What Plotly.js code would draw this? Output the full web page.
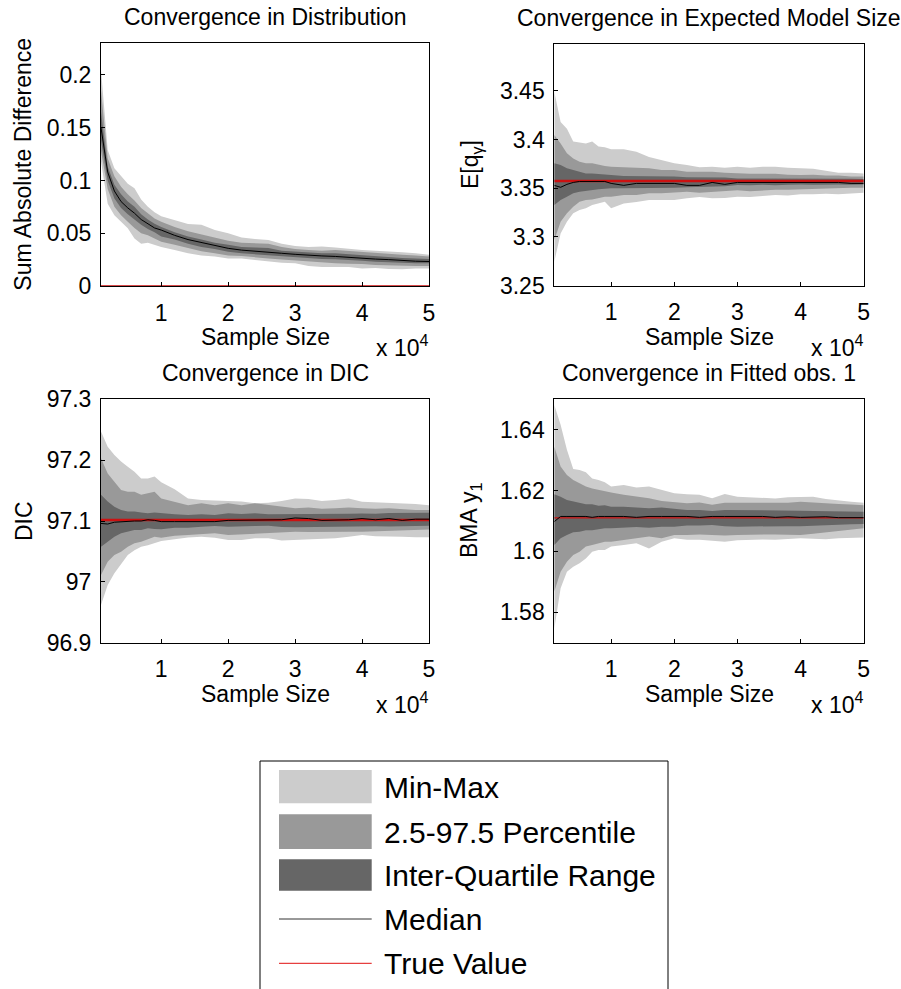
<!DOCTYPE html>
<html><head><meta charset="utf-8">
<script src="https://cdn.plot.ly/plotly-3.0.1.min.js"></script>
<style>html,body{margin:0;padding:0;background:#fff}</style>
</head><body><div id="chart" style="width:901px;height:989px"></div>
<script>
// ---- data ----
const sampleSize = [1000,2000,3000,4000,5000,6000,7000,8000,9000,10000,12000,14000,16000,18000,20000,22000,24000,26000,28000,30000,32000,34000,36000,38000,40000,42000,44000,46000,48000,50000];
const xTickVals = [10000,20000,30000,40000,50000];
const xTickText = ['1','2','3','4','5'];

// Convergence in Distribution
const distMax  = [0.205,0.129,0.1115,0.104,0.097,0.0926,0.082,0.075,0.070,0.066,0.0626,0.0588,0.058,0.053,0.050,0.046,0.0446,0.0435,0.040,0.038,0.037,0.0375,0.0365,0.035,0.034,0.0335,0.033,0.032,0.031,0.0295];
const distP975 = [0.185,0.121,0.104,0.094,0.087,0.081,0.074,0.069,0.064,0.061,0.056,0.052,0.049,0.046,0.043,0.041,0.0405,0.040,0.037,0.035,0.034,0.0335,0.034,0.033,0.0325,0.031,0.0305,0.0295,0.029,0.028];
const distQ75  = [0.165,0.113,0.096,0.087,0.080,0.075,0.068,0.063,0.059,0.056,0.051,0.047,0.044,0.041,0.039,0.037,0.0365,0.036,0.0335,0.0325,0.0315,0.031,0.031,0.030,0.0294,0.0285,0.0275,0.0265,0.026,0.0256];
const distMed  = [0.150,0.108,0.090,0.080,0.074,0.069,0.063,0.059,0.055,0.053,0.048,0.044,0.041,0.038,0.0357,0.034,0.0332,0.032,0.031,0.030,0.029,0.0285,0.028,0.027,0.026,0.0255,0.025,0.024,0.0235,0.0232];
const distQ25  = [0.138,0.100,0.083,0.074,0.068,0.063,0.058,0.054,0.051,0.0468,0.044,0.040,0.037,0.035,0.0325,0.031,0.030,0.029,0.028,0.0272,0.0265,0.0255,0.0253,0.025,0.024,0.023,0.0225,0.0215,0.0215,0.0215];
const distP025 = [0.128,0.092,0.075,0.067,0.061,0.055,0.050,0.048,0.045,0.042,0.039,0.036,0.033,0.031,0.029,0.0285,0.027,0.026,0.025,0.024,0.023,0.022,0.0215,0.021,0.0209,0.020,0.0195,0.019,0.019,0.019];
const distMin  = [0.118,0.078,0.067,0.061,0.0547,0.045,0.040,0.041,0.039,0.037,0.034,0.031,0.029,0.028,0.026,0.026,0.0246,0.023,0.022,0.0215,0.019,0.018,0.0177,0.018,0.0167,0.017,0.016,0.0158,0.0165,0.0167];
const distTrue = 0;
const distTicks = [0,0.05,0.1,0.15,0.2];
const distTickText = ['0','0.05','0.1','0.15','0.2'];

// Convergence in Expected Model Size
const emsMax  = [3.449,3.418,3.411,3.398,3.397,3.396,3.398,3.393,3.392,3.390,3.390,3.3876,3.382,3.379,3.3756,3.374,3.3715,3.372,3.371,3.372,3.371,3.372,3.372,3.371,3.3705,3.370,3.368,3.366,3.366,3.3653];
const emsP975 = [3.4047,3.396,3.386,3.3807,3.3773,3.3756,3.3756,3.374,3.373,3.372,3.3715,3.3705,3.3705,3.3688,3.3688,3.367,3.367,3.367,3.366,3.3653,3.365,3.365,3.365,3.364,3.3636,3.364,3.363,3.363,3.362,3.362];
const emsQ75  = [3.3756,3.374,3.3705,3.3688,3.367,3.3653,3.3653,3.3646,3.3636,3.3636,3.3626,3.3626,3.362,3.362,3.362,3.3612,3.3612,3.3612,3.361,3.360,3.360,3.360,3.3605,3.3605,3.360,3.360,3.360,3.3598,3.3598,3.3595];
const emsMed  = [3.353,3.351,3.354,3.356,3.357,3.357,3.357,3.357,3.357,3.355,3.353,3.355,3.355,3.355,3.355,3.353,3.353,3.356,3.354,3.356,3.356,3.356,3.356,3.356,3.356,3.356,3.356,3.356,3.355,3.355];
const emsQ25  = [3.3328,3.338,3.3414,3.3448,3.3465,3.3475,3.3482,3.3489,3.3496,3.350,3.350,3.350,3.3502,3.3506,3.3506,3.351,3.3513,3.3516,3.352,3.3534,3.353,3.3535,3.353,3.3535,3.354,3.3535,3.354,3.354,3.3535,3.354];
const emsP025 = [3.2969,3.3157,3.3243,3.3311,3.3362,3.338,3.3386,3.3397,3.3414,3.3414,3.3431,3.3431,3.3448,3.3448,3.3455,3.3465,3.3455,3.3465,3.347,3.348,3.347,3.348,3.3485,3.3485,3.349,3.349,3.3495,3.350,3.3505,3.3506];
const emsMin  = [3.2746,3.3037,3.3157,3.3243,3.3277,3.3294,3.3328,3.3345,3.3362,3.3294,3.3345,3.336,3.338,3.338,3.338,3.3397,3.341,3.3397,3.340,3.3414,3.341,3.342,3.343,3.3425,3.3438,3.344,3.3445,3.344,3.345,3.3455];
const emsTrue = 3.3575;
const emsTicks = [3.25,3.3,3.35,3.4,3.45];
const emsTickText = ['3.25','3.3','3.35','3.4','3.45'];

// Convergence in DIC
const dicMax  = [97.247,97.222,97.2085,97.1976,97.189,97.181,97.170,97.170,97.173,97.1636,97.152,97.137,97.1345,97.1335,97.133,97.132,97.129,97.130,97.133,97.137,97.136,97.133,97.1345,97.137,97.1317,97.131,97.130,97.129,97.128,97.126];
const dicP975 = [97.203,97.178,97.1647,97.151,97.148,97.148,97.143,97.1455,97.148,97.137,97.132,97.126,97.129,97.126,97.129,97.126,97.129,97.126,97.123,97.121,97.122,97.120,97.121,97.122,97.121,97.120,97.121,97.119,97.118,97.118];
const dicQ75  = [97.143,97.132,97.1236,97.118,97.1155,97.1155,97.114,97.1126,97.114,97.1126,97.111,97.1098,97.111,97.1098,97.1126,97.1115,97.1126,97.111,97.111,97.1114,97.112,97.111,97.1114,97.112,97.1125,97.112,97.113,97.113,97.1136,97.1136];
const dicMed  = [97.096,97.095,97.098,97.099,97.100,97.100,97.100,97.102,97.101,97.099,97.099,97.099,97.099,97.099,97.101,97.101,97.101,97.101,97.102,97.105,97.104,97.101,97.101,97.102,97.104,97.102,97.104,97.101,97.103,97.103];
const dicQ25  = [97.0578,97.066,97.0743,97.0797,97.0825,97.0852,97.0852,97.088,97.087,97.0863,97.089,97.089,97.0907,97.0918,97.0907,97.0907,97.0918,97.092,97.090,97.0896,97.090,97.090,97.090,97.091,97.091,97.0915,97.091,97.0915,97.0917,97.092];
const dicP025 = [97.0112,97.033,97.044,97.0496,97.0578,97.0633,97.066,97.0704,97.0743,97.0726,97.0759,97.077,97.078,97.0797,97.077,97.078,97.0797,97.0797,97.081,97.0824,97.082,97.0825,97.083,97.0825,97.0824,97.083,97.084,97.085,97.086,97.0862];
const dicMin  = [96.962,96.995,97.014,97.030,97.044,97.052,97.0578,97.060,97.064,97.067,97.070,97.073,97.074,97.0725,97.0688,97.0688,97.0715,97.0715,97.068,97.0687,97.069,97.070,97.0715,97.074,97.077,97.075,97.074,97.074,97.0735,97.0731];
const dicTrue = 97.1016;
const dicTicks = [96.9,97,97.1,97.2,97.3];
const dicTickText = ['96.9','97','97.1','97.2','97.3'];

// Convergence in Fitted obs. 1
const bmaMax  = [1.6481,1.6416,1.6334,1.6271,1.6268,1.626,1.624,1.6235,1.6227,1.6213,1.6218,1.621,1.6213,1.6202,1.6191,1.6188,1.6186,1.6175,1.6189,1.618,1.6178,1.6176,1.6174,1.6178,1.618,1.618,1.6172,1.6167,1.6163,1.616];
const bmaP975 = [1.6344,1.6279,1.6251,1.6235,1.6224,1.6213,1.6207,1.6202,1.6197,1.6194,1.6186,1.618,1.6175,1.6166,1.6161,1.6158,1.6161,1.6153,1.616,1.616,1.6158,1.6158,1.6158,1.616,1.6163,1.616,1.6158,1.6156,1.6154,1.6152];
const bmaQ75  = [1.6188,1.618,1.6169,1.6164,1.6158,1.6155,1.6155,1.615,1.6152,1.6147,1.6147,1.6144,1.6142,1.6144,1.614,1.6136,1.6136,1.6133,1.6136,1.6136,1.6135,1.6134,1.6134,1.6135,1.6134,1.6133,1.6132,1.6131,1.613,1.613];
const bmaMed  = [1.6098,1.6115,1.6115,1.6115,1.6115,1.6115,1.6112,1.6115,1.6115,1.6115,1.6115,1.6112,1.6115,1.6115,1.6115,1.6115,1.6112,1.6115,1.6115,1.6115,1.6115,1.6115,1.6112,1.6114,1.6112,1.6112,1.6114,1.6111,1.6111,1.6111];
const bmaQ25  = [1.6021,1.6043,1.6054,1.6063,1.6065,1.607,1.607,1.6074,1.6076,1.6076,1.6078,1.608,1.6078,1.6081,1.6081,1.6085,1.6085,1.6087,1.6083,1.6081,1.6082,1.6083,1.6083,1.6083,1.6083,1.6085,1.6087,1.6088,1.6089,1.609];
const bmaP025 = [1.5868,1.5933,1.5966,1.5988,1.5999,1.6016,1.6021,1.6027,1.6032,1.6032,1.6038,1.6045,1.6049,1.6043,1.6054,1.6054,1.6056,1.6054,1.6052,1.6054,1.6055,1.6055,1.6056,1.6055,1.6054,1.6058,1.6062,1.6066,1.6071,1.6076];
const bmaMin  = [1.5747,1.5879,1.5933,1.595,1.5961,1.5977,1.5999,1.6005,1.6005,1.6016,1.6021,1.6027,1.601,1.6032,1.6043,1.6038,1.6038,1.6035,1.6032,1.6037,1.6039,1.6039,1.6038,1.604,1.6043,1.6042,1.604,1.6043,1.6045,1.6046];
const bmaTrue = 1.611;
const bmaTicks = [1.58,1.6,1.62,1.64];
const bmaTickText = ['1.58','1.6','1.62','1.64'];

const legendLabels = ['Min-Max','2.5-97.5 Percentile','Inter-Quartile Range','Median','True Value'];

// ---- styling ----
const FONT = 'Liberation Sans, Arial, Helvetica, sans-serif';
const FS = 23;
const cLight = '#cccccc', cMid = '#999999', cDark = '#666666', cRed = '#cc1111';
const W = 901, H = 989;
const fx = p => p / W;
const fy = p => 1 - p / H;

const panels = [
  {ax:'', box:[101,429,43.3,286], series:[distMin,distP025,distQ25,distMed,distQ75,distP975,distMax], tv:distTrue, yr:[0,0.23], tv_w:1.5,
   ticks:distTicks, ttext:distTickText, title:'Convergence in Distribution', ytitle:'Sum Absolute Difference', ytx:23},
  {ax:'2', box:[554.3,863.7,44.3,285.7], series:[emsMin,emsP025,emsQ25,emsMed,emsQ75,emsP975,emsMax], tv:emsTrue, yr:[3.25,3.4978], tv_w:2.5,
   ticks:emsTicks, ttext:emsTickText, title:'Convergence in Expected Model Size', ytitle:'E[q<sub>γ</sub>]', ytx:471},
  {ax:'3', box:[101,429,399.3,642.7], series:[dicMin,dicP025,dicQ25,dicMed,dicQ75,dicP975,dicMax], tv:dicTrue, yr:[96.9,97.3], tv_w:2.5,
   ticks:dicTicks, ttext:dicTickText, title:'Convergence in DIC', ytitle:'DIC', ytx:24},
  {ax:'4', box:[554.3,863.7,399.3,642.7], series:[bmaMin,bmaP025,bmaQ25,bmaMed,bmaQ75,bmaP975,bmaMax], tv:bmaTrue, yr:[1.57,1.65], tv_w:1.3,
   ticks:bmaTicks, ttext:bmaTickText, title:'Convergence in Fitted obs. 1', ytitle:'BMA y<sub>1</sub>', ytx:470}
];

const traces = [];
const layout = {
  width: W, height: H, margin:{l:0,r:0,t:0,b:0}, showlegend:false,
  paper_bgcolor:'#fff', plot_bgcolor:'#fff',
  font:{family:FONT, size:FS, color:'#000'},
  annotations:[], shapes:[]
};

panels.forEach(p => {
  const xa = 'x'+p.ax, ya = 'y'+p.ax;
  const s = p.series;
  const band = (lo, hi, col) => {
    traces.push({x:sampleSize, y:lo, xaxis:xa, yaxis:ya, mode:'lines', line:{width:0, color:col}, hoverinfo:'skip'});
    traces.push({x:sampleSize, y:hi, xaxis:xa, yaxis:ya, mode:'lines', line:{width:0, color:col}, fill:'tonexty', fillcolor:col, hoverinfo:'skip'});
  };
  band(s[0], s[6], cLight);
  band(s[1], s[5], cMid);
  band(s[2], s[4], cDark);
  traces.push({x:[sampleSize[0], sampleSize[sampleSize.length-1]], y:[p.tv, p.tv], xaxis:xa, yaxis:ya, mode:'lines', line:{width:p.tv_w, color:cRed}, name:'True Value'});
  traces.push({x:sampleSize, y:s[3], xaxis:xa, yaxis:ya, mode:'lines', line:{width:1, color:'#000'}, name:'Median'});

  const common = {showline:true, linecolor:'#000', linewidth:1, mirror:true, ticks:'inside', ticklen:4, tickcolor:'#000',
    showgrid:false, zeroline:false, tickfont:{family:FONT, size:FS, color:'#000'}, fixedrange:true};
  layout['xaxis'+p.ax] = Object.assign({}, common, {domain:[fx(p.box[0]), fx(p.box[1])], anchor:ya, range:[1000,50000],
    tickmode:'array', tickvals:xTickVals, ticktext:xTickText, ticklabelstandoff:6});
  layout['yaxis'+p.ax] = Object.assign({}, common, {domain:[fy(p.box[3]), fy(p.box[2])], anchor:xa, range:p.yr,
    tickmode:'array', tickvals:p.ticks, ticktext:p.ttext, ticklabelstandoff:4});

  const cx = (p.box[0]+p.box[1])/2;
  const top = p.box[2], bot = p.box[3];
  layout.annotations.push({xref:'paper', yref:'paper', x:fx(cx), y:fy(top-26), text:p.title, showarrow:false,
    xanchor:'center', yanchor:'middle', font:{size:FS}});
  layout.annotations.push({xref:'paper', yref:'paper', x:fx(cx), y:fy(bot+51), text:'Sample Size', showarrow:false,
    xanchor:'center', yanchor:'middle', font:{size:FS}});
  layout.annotations.push({xref:'paper', yref:'paper', x:fx(p.box[1]+1), y:fy(bot+60), text:'x 10<sup>4</sup>', showarrow:false,
    xanchor:'right', yanchor:'middle', font:{size:FS}});
  layout.annotations.push({xref:'paper', yref:'paper', x:fx(p.ytx), y:fy((top+bot)/2), text:p.ytitle, showarrow:false,
    textangle:-90, xanchor:'center', yanchor:'middle', font:{size:FS}});
});

// ---- legend (drawn) ----
layout.shapes.push({type:'rect', xref:'paper', yref:'paper', x0:fx(260), x1:fx(668), y0:fy(1000), y1:fy(761),
  line:{color:'#000', width:1}, fillcolor:'rgba(0,0,0,0)'});
const patchCols = [cLight, cMid, cDark];
const patchY = [[770,803.3],[814.3,849],[859.3,890.7]];
patchY.forEach((r,i) => layout.shapes.push({type:'rect', xref:'paper', yref:'paper', x0:fx(279), x1:fx(371.7), y0:fy(r[1]), y1:fy(r[0]),
  line:{width:0}, fillcolor:patchCols[i]}));
layout.shapes.push({type:'line', xref:'paper', yref:'paper', x0:fx(279), x1:fx(371.7), y0:fy(919), y1:fy(919), line:{color:'#333', width:1}});
layout.shapes.push({type:'line', xref:'paper', yref:'paper', x0:fx(279), x1:fx(371.7), y0:fy(963.3), y1:fy(963.3), line:{color:'#e01010', width:1}});
const legY = [787, 832, 875.5, 919, 963];
legendLabels.forEach((t,i) => layout.annotations.push({xref:'paper', yref:'paper', x:fx(382), y:fy(legY[i]), text:t, showarrow:false,
  xanchor:'left', yanchor:'middle', font:{size:30}}));

Plotly.newPlot('chart', traces, layout, {displayModeBar:false, staticPlot:true});
</script>
</body></html>
